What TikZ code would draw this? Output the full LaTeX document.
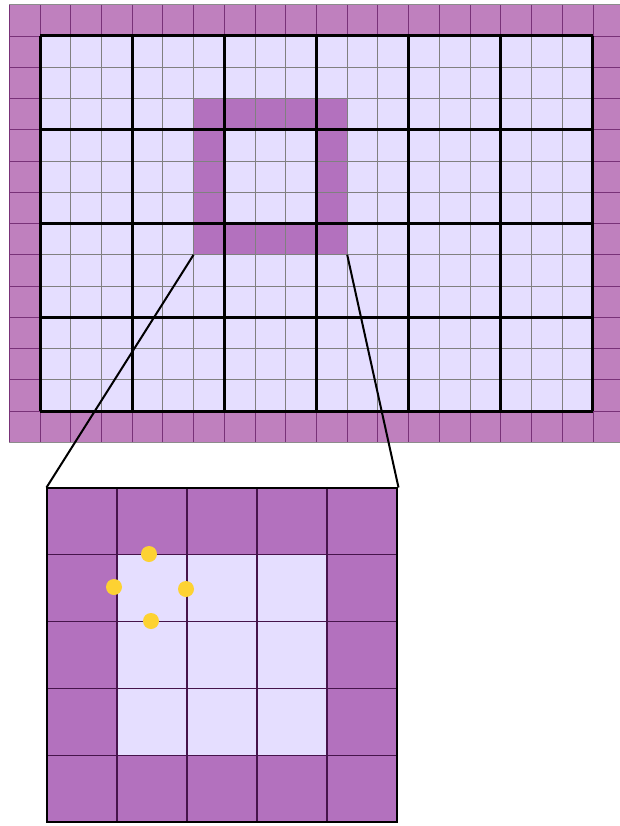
\documentclass[tikz,border=0pt]{standalone}
\definecolor{lav}{RGB}{229,222,255}
\definecolor{ring}{RGB}{179,113,190}
\definecolor{framec}{RGB}{191,128,190}
\definecolor{framegrid}{RGB}{120,50,120}
\definecolor{dotc}{RGB}{253,210,50}
\definecolor{insetgrid}{RGB}{70,20,75}
\begin{document}
\begin{tikzpicture}[x=1pt,y=-1pt,
  thingrid/.style={draw=black!50,line width=0.9pt},
  thickgrid/.style={draw=black,line width=3pt},
  framelines/.style={draw=framegrid,line width=0.9pt},
  zoomline/.style={draw=black,line width=2pt},
  dotstyle/.style={fill=dotc}]
\useasboundingbox (0,0) rectangle (620,826);
% ---------- top picture: frame ring
\fill[framec] (9.3,4.75) rectangle (620,442.25);
\foreach \k in {-1,...,19} \draw[framelines] ({40+\k*30.72},4.75) -- ({40+\k*30.72},442.25);
\foreach \k in {-1,...,13} \draw[framelines] (9.3,{36+\k*31.25}) -- (620,{36+\k*31.25});
\draw[black!45,line width=1pt] (9.3,4.2) -- (620,4.2);
\draw[black!45,line width=1.2pt] (9.3,442.8) -- (620,442.8);
% inner light area
\fill[lav] (40,36) rectangle (592.96,411);
% highlighted ring
\fill[ring] (193.6,98.5) rectangle (347.2,254.75);
\fill[lav] (224.32,129.75) rectangle (316.48,223.5);
% thin grid
\foreach \k in {1,...,17} \draw[thingrid] ({40+\k*30.72},36) -- ({40+\k*30.72},411);
\foreach \k in {1,...,11} \draw[thingrid] (40,{36+\k*31.25}) -- (592.96,{36+\k*31.25});
% thick grid
\foreach \k in {0,...,6} \draw[thickgrid] ({40+3*\k*30.72},36) -- ({40+3*\k*30.72},411);
\foreach \k in {0,...,4} \draw[thickgrid] (40,{36+3*\k*31.25}) -- (592.96,{36+3*\k*31.25});
% ---------- inset
\coordinate (srcL) at (193.6,254.75);
\coordinate (srcR) at (347.2,254.75);
\coordinate (dstL) at (46.5,487.5);
\coordinate (dstR) at (398.5,487.5);
\fill[ring] (47,488) rectangle (397,822);
\fill[lav] (117,554.8) rectangle (327,755.2);
\foreach \k in {1,...,4} \draw[insetgrid,line width=1.2pt] ({47+\k*70},488) -- ({47+\k*70},822);
\foreach \k in {1,...,4} \draw[insetgrid,line width=1.2pt] (47,{488+\k*66.8}) -- (397,{488+\k*66.8});
\draw[black,line width=2.4pt] (47,488) rectangle (397,822);
\draw[zoomline] (srcL) -- (dstL);
\draw[zoomline] (srcR) -- (dstR);
% yellow dots
\fill[dotstyle] (149,554) circle[radius=8pt];
\fill[dotstyle] (114,587) circle[radius=8pt];
\fill[dotstyle] (186,589) circle[radius=8pt];
\fill[dotstyle] (151,621) circle[radius=8pt];
\end{tikzpicture}
\end{document}
